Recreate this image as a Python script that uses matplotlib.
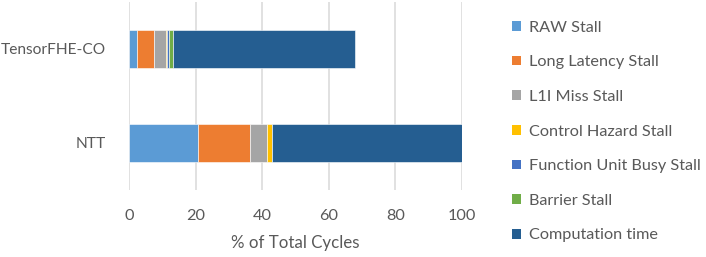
import matplotlib.pyplot as plt
from matplotlib.patches import Patch
import numpy as np

plt.rcParams["font.family"] = ["Lato", "DejaVu Sans"]

categories = ["NTT", "TensorFHE-CO"]
series_names = [
    "RAW Stall",
    "Long Latency Stall",
    "L1I Miss Stall",
    "Control Hazard Stall",
    "Function Unit Busy Stall",
    "Barrier Stall",
    "Computation time",
]
raw_stall = [20.6, 2.5]
long_latency = [15.7, 4.9]
l1i_miss = [5.1, 3.8]
control_hazard = [1.6, 0.1]
function_unit = [0.0, 0.8]
barrier = [0.0, 1.1]
computation = [57.0, 54.6]

colors = ["#5B9BD5", "#ED7D31", "#A5A5A5", "#FFC000", "#4472C4", "#70AD47", "#255E91"]
text_color = "#595959"

series = [raw_stall, long_latency, l1i_miss, control_hazard,
          function_unit, barrier, computation]

fig = plt.figure(figsize=(7.06, 2.57), dpi=100)
ax = fig.add_axes([129 / 706, 1 - 190 / 257, 333 / 706, 188 / 257])

y = np.arange(len(categories))
left = np.zeros(len(categories))
for values, color in zip(series, colors):
    values = np.array(values)
    ax.barh(y, values, left=left, height=0.404, color=color,
            edgecolor="white", linewidth=0.4, zorder=3)
    left += values

ax.set_xlim(0, 100)
ax.set_ylim(-0.5, 1.5)
ax.set_xticks(np.arange(0, 101, 20))
ax.set_yticks(y)
ax.set_yticklabels(categories)
ax.grid(axis="x", color="#D9D9D9", linewidth=1.1, zorder=0)
for spine in ax.spines.values():
    spine.set_visible(False)
ax.tick_params(axis="both", length=0, labelsize=11.7, labelcolor=text_color)
ax.tick_params(axis="x", pad=14)
ax.tick_params(axis="y", pad=17, labelsize=11.2)
ax.set_xlabel("% of Total Cycles", fontsize=12.2, color=text_color, labelpad=8)

handles = [Patch(facecolor=c, edgecolor="none") for c in colors]
fig.legend(handles, series_names, loc="upper left",
           bbox_to_anchor=(497 / 706, 1 - 6 / 257), frameon=False,
           fontsize=11.7, labelcolor=text_color, handlelength=0.55,
           handleheight=0.55, handletextpad=0.5, labelspacing=1.27)

fig.savefig("out.png", dpi=100)
